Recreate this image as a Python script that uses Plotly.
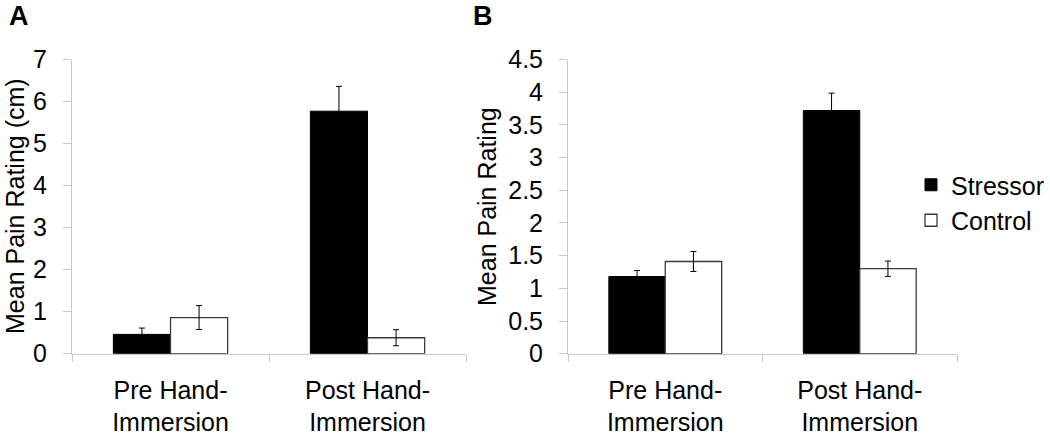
import plotly.graph_objects as go

categories = ["Pre Hand-<br>Immersion", "Post Hand-<br>Immersion"]

# Panel A (cm)
a_stressor = [0.46, 5.77]
a_stressor_err = [0.15, 0.59]
a_control = [0.86, 0.38]
a_control_err = [0.285, 0.19]

# Panel B
b_stressor = [1.18, 3.72]
b_stressor_err = [0.092, 0.265]
b_control = [1.41, 1.30]
b_control_err = [0.153, 0.117]

a_ticks = [0, 1, 2, 3, 4, 5, 6, 7]
b_ticks = [0, 0.5, 1, 1.5, 2, 2.5, 3, 3.5, 4, 4.5]
b_ticktext = ["0", "0.5", "1", "1.5", "2", "2.5", "3", "3.5", "4", "4.5"]

a_ytitle = "Mean Pain Rating (cm)"
b_ytitle = "Mean Pain Rating"

FONT = "Liberation Sans, Arial, sans-serif"
FS = 25
AX = "#c8c8c8"
W, H = 1050, 436


def px(x):
    return x / W


def py(y):
    return 1 - y / H


fig = go.Figure()


def bars(x_ax, y_ax, s, se, c, ce, show):
    fig.add_trace(go.Bar(
        x=categories, y=s, name="Stressor", xaxis=x_ax, yaxis=y_ax,
        marker=dict(color="black", line=dict(color="black", width=1)),
        error_y=dict(type="data", array=se, visible=True, color="black", thickness=1, width=3),
        showlegend=show, legendgroup="s"))
    fig.add_trace(go.Bar(
        x=categories, y=c, name="Control", xaxis=x_ax, yaxis=y_ax,
        marker=dict(color="white", line=dict(color="#3a3a3a", width=1.3)),
        error_y=dict(type="data", array=ce, visible=True, color="black", thickness=1, width=3),
        showlegend=show, legendgroup="c"))


bars("x", "y", a_stressor, a_stressor_err, a_control, a_control_err, False)
bars("x2", "y2", b_stressor, b_stressor_err, b_control, b_control_err, True)

ydom = [py(353.7), py(59.5)]

xcommon = dict(type="category", tickson="boundaries", ticks="outside", ticklen=7,
               tickcolor=AX, tickwidth=1, showline=True, linecolor=AX, linewidth=1,
               showgrid=False, zeroline=False, ticklabelstandoff=14, automargin=False,
               tickfont=dict(family=FONT, size=FS, color="black"))
ycommon = dict(ticks="outside", ticklen=8, tickcolor=AX, tickwidth=1, showline=True,
               linecolor=AX, linewidth=1, showgrid=False, zeroline=False, automargin=False,
               ticklabelstandoff=11, tickfont=dict(family=FONT, size=FS, color="black"),
               domain=ydom)

fig.update_layout(
    template="none",
    width=W, height=H,
    margin=dict(l=0, r=0, t=0, b=0, pad=0, autoexpand=False),
    paper_bgcolor="white", plot_bgcolor="white",
    barmode="group", bargap=0.42, bargroupgap=0,
    font=dict(family=FONT, size=FS, color="black"),
    xaxis=dict(domain=[px(72), px(466)], anchor="y", **xcommon),
    xaxis2=dict(domain=[px(568), px(957)], anchor="y2", **xcommon),
    yaxis=dict(range=[0, 7], tickvals=a_ticks, anchor="x", **ycommon),
    yaxis2=dict(range=[0, 4.5], tickvals=b_ticks, ticktext=b_ticktext, anchor="x2", **ycommon),
    legend=dict(x=px(911), y=py(162), xanchor="left", yanchor="top",
                font=dict(family=FONT, size=FS, color="black"),
                bgcolor="rgba(0,0,0,0)", itemwidth=30, tracegroupgap=0),
    annotations=[
        dict(text=a_ytitle, x=px(15), y=py(206), xref="paper", yref="paper",
             textangle=-90, xanchor="center", yanchor="middle", showarrow=False,
             font=dict(family=FONT, size=FS, color="black")),
        dict(text=b_ytitle, x=px(487), y=py(207), xref="paper", yref="paper",
             textangle=-90, xanchor="center", yanchor="middle", showarrow=False,
             font=dict(family=FONT, size=FS, color="black")),
        dict(text="<b>A</b>", x=px(19), y=1, xref="paper", yref="paper",
             xanchor="center", yanchor="top", showarrow=False, borderpad=0,
             font=dict(family=FONT, size=27, color="black")),
        dict(text="<b>B</b>", x=px(483), y=1, xref="paper", yref="paper",
             xanchor="center", yanchor="top", showarrow=False, borderpad=0,
             font=dict(family=FONT, size=27, color="black")),
    ],
)

fig.write_html("out.html", config={"displayModeBar": False},
               post_script="document.body.style.margin='0';")
